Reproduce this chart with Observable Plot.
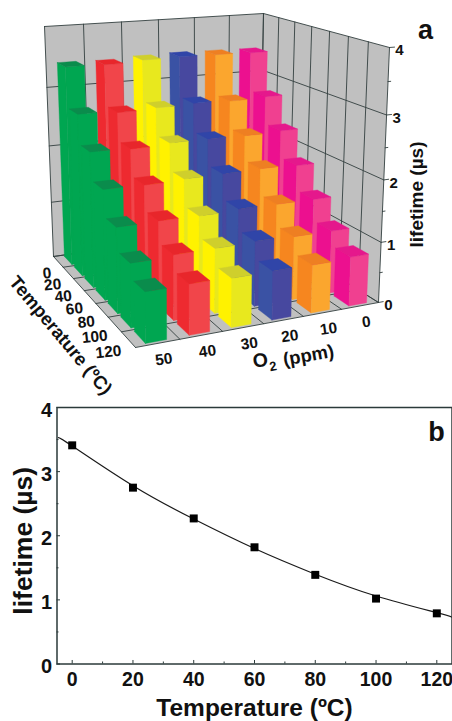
<!DOCTYPE html>
<html><head><meta charset="utf-8">
<style>html,body{margin:0;padding:0;background:#fff}svg{display:block;overflow:visible !important}</style>
<script src="https://cdn.jsdelivr.net/npm/d3@7"></script>
<script src="https://cdn.jsdelivr.net/npm/@observablehq/plot@0.6"></script>
</head><body><script>
// ---- data ----
const temperatures = [0, 20, 40, 60, 80, 100, 120];
const oxygenLevels = [50, 40, 30, 20, 10, 0];
const lifetime50 = [3.41, 2.75, 2.27, 1.82, 1.39, 1.02, 0.79];
const lifetime40 = [3.40, 2.72, 2.25, 1.81, 1.40, 1.05, 0.80];
const lifetime30 = [3.43, 2.74, 2.28, 1.83, 1.39, 1.05, 0.78];
const lifetime20 = [3.44, 2.76, 2.28, 1.84, 1.42, 1.07, 0.79];
const lifetime10 = [3.43, 2.74, 2.27, 1.85, 1.41, 1.05, 0.78];
const lifetime0  = [3.42, 2.76, 2.29, 1.83, 1.41, 1.05, 0.81];
const seriesA = [lifetime50, lifetime40, lifetime30, lifetime20, lifetime10, lifetime0];
const leftColors  = ["#00a651", "#ee2a30", "#fff200", "#3a52a4", "#f6861f", "#ec108f"];
const frontColors = ["#00a651", "#f1454a", "#e8e81e", "#47489f", "#fba62e", "#f04090"];
const topColors   = ["#0a8c4c", "#e8262b", "#cfcf2c", "#3045a8", "#ee7f22", "#e5188c"];
const fitTemperature = [-4.5, 0, 20, 40, 60, 80, 100, 120, 125];
const fitLifetime = [3.53, 3.40, 2.78, 2.26, 1.80, 1.40, 1.06, 0.80, 0.73];
const zTicks = [0, 1, 2, 3, 4];
const zMinorTicks = [0.5, 1.5, 2.5, 3.5];
const xMajor = [0, 20, 40, 60, 80, 100, 120];
const xMinor = [10, 30, 50, 70, 90, 110];
const yMajor = [0, 1, 2, 3, 4];
const yMinor = [0.5, 1.5, 2.5, 3.5];

// ---- oblique 3D projection calibration for panel a ----
const nU = temperatures.length, nV = oxygenLevels.length, zMax = 4;
function homography([p0, p1, p2, p3]) {
  const dx1 = p1[0]-p2[0], dx2 = p3[0]-p2[0], dx3 = p0[0]-p1[0]+p2[0]-p3[0];
  const dy1 = p1[1]-p2[1], dy2 = p3[1]-p2[1], dy3 = p0[1]-p1[1]+p2[1]-p3[1];
  const den = dx1*dy2-dx2*dy1;
  const g = (dx3*dy2-dx2*dy3)/den, h = (dx1*dy3-dx3*dy1)/den;
  const a = p1[0]-p0[0]+g*p1[0], b = p3[0]-p0[0]+h*p3[0], c = p0[0];
  const d = p1[1]-p0[1]+g*p1[1], e = p3[1]-p0[1]+h*p3[1], f = p0[1];
  return (s, t) => { const w = g*s+h*t+1; return [(a*s+b*t+c)/w, (d*s+e*t+f)/w]; };
}
const floorMap = homography([[53,256],[135,347],[378,302],[259,227]]);
const ceilMap  = homography([[44,26],[132.4,66.5],[389,47],[263,13]]);
function project(u, v, z) {
  const t = z/zMax, q = t/(1+0.08*(1-t));
  const a = floorMap(u/nU, v/nV), b = ceilMap(u/nU, v/nV);
  return [a[0]+(b[0]-a[0])*q, a[1]+(b[1]-a[1])*q];
}

// ---- build polygons and lines from the data ----
const polys = [];
function poly(id, color, pts) {
  pts.concat([pts[0]]).forEach(p => { const [x, y] = project(...p); polys.push({id, color, x, y}); });
}
poly("wallBack", "#c0c0c0", [[0,0,0],[0,nV,0],[0,nV,zMax],[0,0,zMax]]);
poly("wallRight", "#c0c0c0", [[0,nV,0],[nU,nV,0],[nU,nV,zMax],[0,nV,zMax]]);
poly("floor", "#c0c0c0", [[0,0,0],[nU,0,0],[nU,nV,0],[0,nV,0]]);

const grid = [];
function seg(id, a, b) { [a, b].forEach(p => { const [x, y] = project(...p); grid.push({id, x, y}); }); }
zTicks.forEach(z => { seg(`zb${z}`, [0,0,z], [0,nV,z]); seg(`zr${z}`, [0,nV,z], [nU,nV,z]); seg(`zt${z}`, [nU,nV,z], [nU,nV+0.13,z]); });
zMinorTicks.forEach(z => seg(`zm${z}`, [nU,nV,z], [nU,nV+0.07,z]));
d3.range(nV+1).forEach(v => { seg(`vb${v}`, [0,v,0], [0,v,zMax]); seg(`vf${v}`, [0,v,0], [nU,v,0]); });
d3.range(nU+1).forEach(u => { seg(`ur${u}`, [u,nV,0], [u,nV,zMax]); seg(`uf${u}`, [u,0,0], [u,nV,0]); });

const bu = 0.38, bv = 0.24;
temperatures.forEach((T, i) => {
  for (let j = nV-1; j >= 0; j--) {
    const h = seriesA[j][i], u = i+0.5, v = j+0.5;
    const u0 = u-bu, u1 = u+bu, v0 = v-bv, v1 = v+bv;
    poly(`l${i}-${j}`, leftColors[j], [[u0,v0,0],[u1,v0,0],[u1,v0,h],[u0,v0,h]]);
    poly(`f${i}-${j}`, frontColors[j], [[u1,v0,0],[u1,v1,0],[u1,v1,h],[u1,v0,h]]);
    poly(`t${i}-${j}`, topColors[j], [[u0,v0,h],[u1,v0,h],[u1,v1,h],[u0,v1,h]]);
  }
});

const tLabels = temperatures.map((T, i) => { const [x, y] = project(i+0.5, 0, 0); return {x, y, T}; });
const oLabels = oxygenLevels.map((O, j) => { const [x, y] = project(nU, j+0.5, 0); return {x, y, O}; });
const zLabels = zTicks.map(z => { const [x, y] = project(nU, nV, z); return {x, y, z}; });
const labelFont = "'Liberation Sans', Arial, sans-serif";
const ink = "#111";

const panelA = Plot.plot({
  width: 452, height: 398, margin: 0,
  style: {fontFamily: labelFont, background: "transparent"},
  x: {domain: [0, 452], range: [0, 452], axis: null},
  y: {domain: [0, 398], range: [0, 398], axis: null},
  color: {type: "identity"},
  marks: [
    Plot.line(polys.filter(d => /^(wall|floor)/.test(d.id)), {x: "x", y: "y", z: "id", fill: "color", stroke: null}),
    Plot.line(grid, {x: "x", y: "y", z: "id", stroke: "#33403f", strokeWidth: 0.9}),
    Plot.line(polys.filter(d => !/^(wall|floor)/.test(d.id)), {x: "x", y: "y", z: "id", fill: "color", stroke: "color", strokeWidth: 0.4}),
    Plot.text(tLabels, {x: "x", y: "y", text: "T", dx: -7, dy: 11, textAnchor: "end", fontSize: 15.5, fontWeight: "bold", fill: ink, rotate: -6}),
    Plot.text(oLabels, {x: "x", y: "y", text: "O", dx: 6, dy: 16, fontSize: 15.5, fontWeight: "bold", fill: ink, rotate: -8}),
    Plot.text(zLabels, {x: "x", y: "y", text: "z", dx: 10, dy: 3, fontSize: 15, fontWeight: "bold", fill: ink}),
    Plot.text(["lifetime (µs)"], {x: [416], y: [194], text: d => d, rotate: -90, fontSize: 19, fontWeight: "bold", fill: ink}),
    Plot.text(["Temperature (ºC)"], {x: [60], y: [335], text: d => d, rotate: 50, fontSize: 18.5, fontWeight: "bold", fill: ink}),
    Plot.text(["O"], {x: [260], y: [360], text: d => d, rotate: -10, fontSize: 19.5, fontWeight: "bold", fill: ink}),
    Plot.text(["2"], {x: [272.5], y: [366], text: d => d, rotate: -10, fontSize: 13, fontWeight: "bold", fill: ink}),
    Plot.text(["(ppm)"], {x: [308], y: [355], text: d => d, rotate: -10, fontSize: 18.5, fontWeight: "bold", fill: ink}),
    Plot.text(["a"], {x: [425], y: [30], text: d => d, fontSize: 27, fontWeight: "bold", fill: ink})
  ]
});
document.body.appendChild(panelA);

const frameColor = "#2b3a3a";
const yLen = 4 * 3.5 / 256, yMinorLen = 4 * 2 / 256;
const xLen = 130 * 3.5 / 395, xMinorLen = 130 * 2 / 395;
const panelB = Plot.plot({
  width: 452, height: 323, marginTop: 9, marginBottom: 57.5, marginLeft: 56.5, marginRight: 0.5,
  style: {fontFamily: labelFont, background: "transparent"},
  x: {domain: [-5, 125], axis: null},
  y: {domain: [0, 4], axis: null},
  marks: [
    Plot.line(fitTemperature.map((t, i) => ({t, v: fitLifetime[i]})), {x: "t", y: "v", curve: "natural", stroke: "#1a1a1a", strokeWidth: 1.2}),
    Plot.dot(xMajor.map((t, i) => ({t, v: lifetime50[i]})), {x: "t", y: "v", symbol: "square", r: 4.5, fill: "#000", stroke: null}),
    Plot.ruleX(xMajor, {y1: 0, y2: yLen, stroke: frameColor, strokeWidth: 1}),
    Plot.ruleX(xMinor, {y1: 0, y2: yMinorLen, stroke: frameColor, strokeWidth: 1}),
    Plot.ruleY(yMajor, {x1: -5, x2: -5 + xLen, stroke: frameColor, strokeWidth: 1}),
    Plot.ruleY(yMinor, {x1: -5, x2: -5 + xMinorLen, stroke: frameColor, strokeWidth: 1}),
    Plot.frame({stroke: frameColor, strokeWidth: 1.5}),
    Plot.axisX({ticks: xMajor, anchor: "bottom", tickSize: 0, tickPadding: 8, label: null, fontSize: 19.5, fontWeight: "bold", fill: ink}),
    Plot.axisY({ticks: yMajor, tickFormat: d => d, anchor: "left", tickSize: 0, tickPadding: 5, label: null, fontSize: 20, fontWeight: "bold", fill: ink, dy: 3}),
    Plot.text(["Temperature (ºC)"], {frameAnchor: "bottom", lineAnchor: "middle", dy: 44.5, text: d => d, fontSize: 24.5, fontWeight: "bold", fill: ink}),
    Plot.text(["lifetime (µs)"], {frameAnchor: "left", textAnchor: "middle", dx: -33, dy: 5, rotate: -90, text: d => d, fontSize: 26.5, fontWeight: "bold", fill: ink}),
    Plot.text(["b"], {frameAnchor: "top-right", lineAnchor: "middle", dx: -15.5, dy: 25, textAnchor: "middle", text: d => d, fontSize: 27, fontWeight: "bold", fill: ink})
  ]
});
document.body.appendChild(panelB);
</script></body></html>
